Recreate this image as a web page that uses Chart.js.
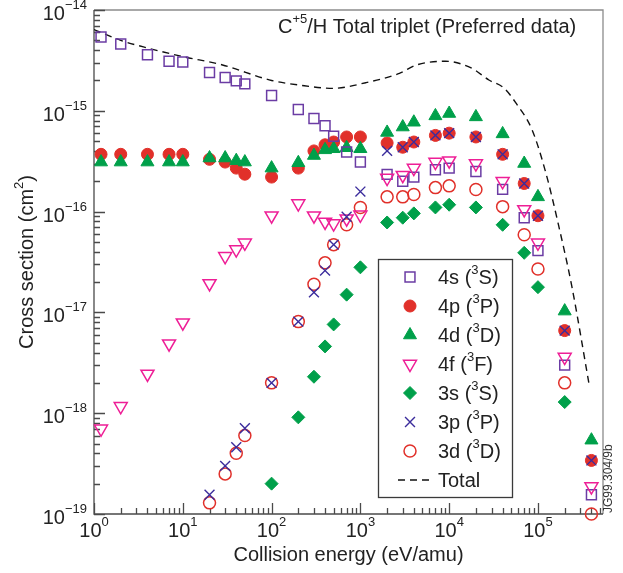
<!DOCTYPE html>
<html>
<head>
<meta charset="utf-8">
<script src="https://cdn.jsdelivr.net/npm/chart.js@4.4.1/dist/chart.umd.min.js"></script>
<style>
  html, body { margin: 0; background: #fff; }
  #wrap { width: 623px; height: 573px; }
</style>
</head>
<body>
<div id="wrap"><canvas id="chart" width="623" height="573"></canvas></div>
<script>
// collision energy (eV/amu) of the tabulated points
const energy = [1.2, 2, 4, 7, 10, 20, 30, 40, 50, 100, 200, 300, 400, 500, 700, 1000,
                2000, 3000, 4000, 7000, 10000, 20000, 40000, 70000, 100000, 200000, 400000];

// cross sections (cm^2), null = no point
const sig4s = [5.4e-15, 4.6e-15, 3.6e-15, 3.1e-15, 3.05e-15, 2.4e-15, 2.14e-15, 1.98e-15, 1.85e-15, 1.42e-15,
               1.03e-15, 8.4e-16, 7.1e-16, 5.6e-16, 3.9e-16, 3.1e-16, 2.34e-16, 2.0e-16, 2.2e-16, 2.6e-16,
               2.7e-16, 2.5e-16, 1.66e-16, 8.7e-17, 4.1e-17, 3.0e-18, 1.55e-19];
const sig4p = [3.7e-16, 3.7e-16, 3.7e-16, 3.7e-16, 3.7e-16, 3.3e-16, 3.1e-16, 2.7e-16, 2.35e-16, 2.2e-16,
               2.7e-16, 4.0e-16, 4.6e-16, 4.9e-16, 5.5e-16, 5.5e-16, 4.8e-16, 4.35e-16, 4.9e-16, 5.7e-16,
               6.0e-16, 5.5e-16, 3.7e-16, 1.9e-16, 9.1e-17, 6.6e-18, 3.4e-19];
const sig4d = [3.1e-16, 3.1e-16, 3.1e-16, 3.1e-16, 3.1e-16, 3.4e-16, 3.4e-16, 3.2e-16, 3.1e-16, 2.7e-16,
               3.05e-16, 3.6e-16, 4.1e-16, 4.2e-16, 4.3e-16, 4.2e-16, 6.1e-16, 6.9e-16, 7.7e-16, 8.9e-16,
               9.4e-16, 8.7e-16, 5.9e-16, 3.0e-16, 1.4e-16, 1.03e-17, 5.4e-19];
const sig4f = [7.0e-19, 1.17e-18, 2.45e-18, 4.9e-18, 7.9e-18, 1.94e-17, 3.6e-17, 4.2e-17, 4.9e-17, 9.1e-17,
               1.2e-16, 9.1e-17, 7.9e-17, 7.6e-17, 8.5e-17, 9.3e-17, 2.15e-16, 2.3e-16, 2.7e-16, 3.1e-16,
               3.2e-16, 3.0e-16, 2.0e-16, 1.05e-16, 4.9e-17, 3.6e-18, 1.87e-19];
const sig3s = [null, null, null, null, null, null, null, null, null, 2.0e-19,
               9.1e-19, 2.3e-18, 4.6e-18, 7.6e-18, 1.5e-17, 2.8e-17, 7.8e-17, 8.7e-17, 9.6e-17, 1.1e-16,
               1.17e-16, 1.1e-16, 7.4e-17, 3.9e-17, 1.78e-17, 1.29e-18, null];
const sig3p = [null, null, null, null, null, 1.55e-19, 3.0e-19, 4.6e-19, 7.1e-19, 2.0e-18,
               8.1e-18, 1.58e-17, 2.6e-17, 4.7e-17, 8.9e-17, 1.58e-16, 4.0e-16, 4.35e-16, 4.9e-16, 5.7e-16,
               6.0e-16, 5.5e-16, 3.7e-16, 1.9e-16, 9.1e-17, 6.6e-18, 3.4e-19];
const sig3d = [null, null, null, null, null, 1.29e-19, 2.5e-19, 4.0e-19, 6.0e-19, 2.0e-18,
               8.1e-18, 1.9e-17, 3.1e-17, 4.7e-17, 7.4e-17, 1.1e-16, 1.4e-16, 1.4e-16, 1.48e-16, 1.73e-16,
               1.8e-16, 1.66e-16, 1.12e-16, 5.9e-17, 2.7e-17, 2.0e-18, 1.0e-19];

// total (dashed curve)
const totalE   = [1, 2, 4, 10, 28, 100, 205, 490, 1150, 2750, 4300, 9100, 18000, 28000, 41500,
                  56600, 85700, 123000, 172000, 241000, 374000];
const totalSig = [6.4e-15, 5.0e-15, 4.2e-15, 3.45e-15, 2.85e-15, 2.0e-15, 1.8e-15, 1.67e-15, 1.9e-15, 2.35e-15, 2.85e-15,
                  3.1e-15, 2.64e-15, 2.02e-15, 1.68e-15, 1.19e-15, 6.5e-16, 2.4e-16, 7.1e-17, 1.8e-17, 2.0e-18];

// axis decades
const xExps = [0, 1, 2, 3, 4, 5];
const yExps = [-14, -15, -16, -17, -18, -19];

const FONT = '"Liberation Sans", Arial, Helvetica, sans-serif';

const pts = arr => energy.map((e, i) => ({ x: e, y: arr[i] })).filter(p => p.y != null);

// legend label: [main, superscript, tail]
const series = [
    { key: '4s', data: sig4s, lab: ['4s (', '3', 'S)'], style: 'rect',     r: 7,   color: '#6b3ca4', fill: 'transparent', bw: 1.5, rot: 0,   order: 3 },
    { key: '4p', data: sig4p, lab: ['4p (', '3', 'P)'], style: 'circle',   r: 6,   color: '#e1302a', fill: '#e1302a',     bw: 0,   rot: 0,   order: 6 },
    { key: '4d', data: sig4d, lab: ['4d (', '3', 'D)'], style: 'triangle', r: 7.5, color: '#00a04a', fill: '#00a04a',     bw: 0,   rot: 0,   order: 5 },
    { key: '4f', data: sig4f, lab: ['4f (', '3', 'F)'], style: 'triangle', r: 7.5, color: '#ee1e96', fill: 'transparent', bw: 1.5, rot: 180, order: 2 },
    { key: '3s', data: sig3s, lab: ['3s (', '3', 'S)'], style: 'rectRot',  r: 6.5, color: '#00a04a', fill: '#00a04a',     bw: 0,   rot: 0,   order: 7 },
    { key: '3p', data: sig3p, lab: ['3p (', '3', 'P)'], style: 'crossRot', r: 7,   color: '#3b2c9c', fill: 'transparent', bw: 1.4, rot: 0,   order: 1 },
    { key: '3d', data: sig3d, lab: ['3d (', '3', 'D)'], style: 'circle',   r: 6,   color: '#e1302a', fill: 'transparent', bw: 1.5, rot: 0,   order: 4 },
];

const datasets = series.map(s => ({
    label: s.key,
    data: pts(s.data),
    pointStyle: s.style,
    pointRadius: s.r,
    pointRotation: s.rot,
    pointBorderWidth: s.bw || 1,
    borderColor: s.color,
    backgroundColor: s.fill,
    pointBorderColor: s.bw ? s.color : s.fill,
    pointBackgroundColor: s.fill,
    showLine: false,
    clip: false,
    order: s.order,
}));

datasets.push({
    type: 'line',
    label: 'Total',
    data: totalE.map((e, i) => ({ x: e, y: totalSig[i] })),
    borderColor: '#111',
    borderWidth: 1.4,
    borderDash: [7, 5],
    pointRadius: 0,
    fill: false,
    cubicInterpolationMode: 'monotone',
    order: 8,
});

// text with a raised part: parts = [[text, size, dy], ...]
function supText(ctx, parts, x, y, align) {
    let w = 0;
    parts.forEach(p => { ctx.font = p[1] + 'px ' + FONT; w += ctx.measureText(p[0]).width; });
    let cx = align === 'right' ? x - w : align === 'center' ? x - w / 2 : x;
    ctx.textAlign = 'left';
    parts.forEach(p => {
        ctx.font = p[1] + 'px ' + FONT;
        ctx.fillText(p[0], cx, y + (p[2] || 0));
        cx += ctx.measureText(p[0]).width;
    });
}

function marker(ctx, s, x, y) {
    ctx.save();
    ctx.strokeStyle = s.bw ? s.color : s.fill;
    ctx.fillStyle = s.fill;
    ctx.lineWidth = s.bw || 1;
    Chart.helpers.drawPoint(ctx, { pointStyle: s.style, radius: s.r, rotation: s.rot, borderWidth: s.bw || 1 }, x, y);
    ctx.restore();
}

const frame = {
    id: 'frame',
    beforeDatasetsDraw(chart) {
        const { ctx, chartArea: a, scales: { x, y } } = chart;
        ctx.save();
        ctx.lineWidth = 1.3;
        ctx.strokeStyle = '#8c8c8c';
        ctx.beginPath();
        ctx.moveTo(a.left, a.top); ctx.lineTo(a.right, a.top); ctx.lineTo(a.right, a.bottom);
        ctx.stroke();
        ctx.strokeStyle = '#4a4a4a';
        ctx.beginPath();
        ctx.moveTo(a.left, a.top); ctx.lineTo(a.left, a.bottom); ctx.lineTo(a.right, a.bottom);
        // x ticks, inside
        for (let d = xExps[0]; d <= xExps[xExps.length - 1]; d++) {
            for (let m = 1; m <= 9; m++) {
                const v = m * Math.pow(10, d);
                if (v > x.max) break;
                const px = Math.round(x.getPixelForValue(v)) + 0.5;
                ctx.moveTo(px, a.bottom); ctx.lineTo(px, a.bottom - (m === 1 ? 11 : 6));
            }
        }
        // y ticks, inside
        for (let d = yExps[yExps.length - 1]; d < yExps[0]; d++) {
            for (let m = 1; m <= 9; m++) {
                const v = m * Math.pow(10, d);
                const py = Math.round(y.getPixelForValue(v)) + 0.5;
                ctx.moveTo(a.left, py); ctx.lineTo(a.left + (m === 1 ? 11 : 6), py);
            }
        }
        const pTop = Math.round(y.getPixelForValue(Math.pow(10, yExps[0]))) + 0.5;
        ctx.moveTo(a.left, pTop); ctx.lineTo(a.left + 11, pTop);
        ctx.stroke();

        ctx.fillStyle = '#222';
        xExps.forEach(e => {
            const px = x.getPixelForValue(Math.pow(10, e));
            supText(ctx, [['10', 20, 0], [String(e), 13, -11]], px, a.bottom + 23, 'center');
        });
        yExps.forEach(e => {
            const py = y.getPixelForValue(Math.pow(10, e));
            supText(ctx, [['10', 20, 0], ['\u2212' + Math.abs(e), 13, -11]], a.left - 7, py + 10, 'right');
        });

        // axis titles
        supText(ctx, [['Collision energy (eV/amu)', 20, 0]], (a.left + a.right) / 2, 561, 'center');
        ctx.save();
        ctx.translate(33, (a.top + a.bottom) / 2);
        ctx.rotate(-Math.PI / 2);
        supText(ctx, [['Cross section (cm', 20, 0], ['2', 13, -10], [')', 20, 0]], 0, 0, 'center');
        ctx.restore();

        // title inside plot
        supText(ctx, [['C', 20, 0], ['+5', 13, -10], ['/H Total triplet (Preferred data)', 20, 0]], 278, 33, 'left');

        // side code
        ctx.save();
        ctx.translate(612, 513);
        ctx.rotate(-Math.PI / 2);
        ctx.fillStyle = '#333';
        supText(ctx, [['JG99.304/9b', 12, 0]], 0, 0, 'left');
        ctx.restore();
        ctx.restore();
    },
    afterDatasetsDraw(chart) {
        const { ctx } = chart;
        ctx.save();
        const bx = 378, by = 259, bw = 134, bh = 238;
        ctx.fillStyle = '#fff';
        ctx.fillRect(bx, by, bw, bh);
        ctx.strokeStyle = '#3a3a3a';
        ctx.lineWidth = 1.3;
        ctx.strokeRect(bx + 0.5, by + 0.5, bw, bh);
        const rowY = i => 277 + i * 29;
        series.forEach((s, i) => {
            marker(ctx, s, 410, rowY(i));
            ctx.fillStyle = '#222';
            supText(ctx, [[s.lab[0], 20, 0], [s.lab[1], 13, -10], [s.lab[2], 20, 0]], 438, rowY(i) + 7, 'left');
        });
        const ty = rowY(7);
        ctx.strokeStyle = '#111';
        ctx.lineWidth = 1.4;
        ctx.setLineDash([7, 5]);
        ctx.beginPath(); ctx.moveTo(398, ty); ctx.lineTo(432, ty); ctx.stroke();
        ctx.setLineDash([]);
        ctx.fillStyle = '#222';
        supText(ctx, [['Total', 20, 0]], 438, ty + 7, 'left');
        ctx.restore();
    },
};

new Chart(document.getElementById('chart'), {
    type: 'scatter',
    data: { datasets },
    options: {
        responsive: false,
        animation: false,
        events: [],
        layout: { padding: { top: 10, right: 20, left: 0, bottom: 0 } },
        plugins: { legend: { display: false }, tooltip: { enabled: false } },
        scales: {
            x: {
                type: 'logarithmic', min: 1, max: 5.4e5,
                grid: { display: false }, border: { display: false }, ticks: { display: false },
                afterFit(s) { s.height = 59; },
            },
            y: {
                type: 'logarithmic', min: 1e-19, max: 1e-14,
                grid: { display: false }, border: { display: false }, ticks: { display: false },
                afterFit(s) { s.width = 94; },
            },
        },
    },
    plugins: [frame],
});
</script>
</body>
</html>
